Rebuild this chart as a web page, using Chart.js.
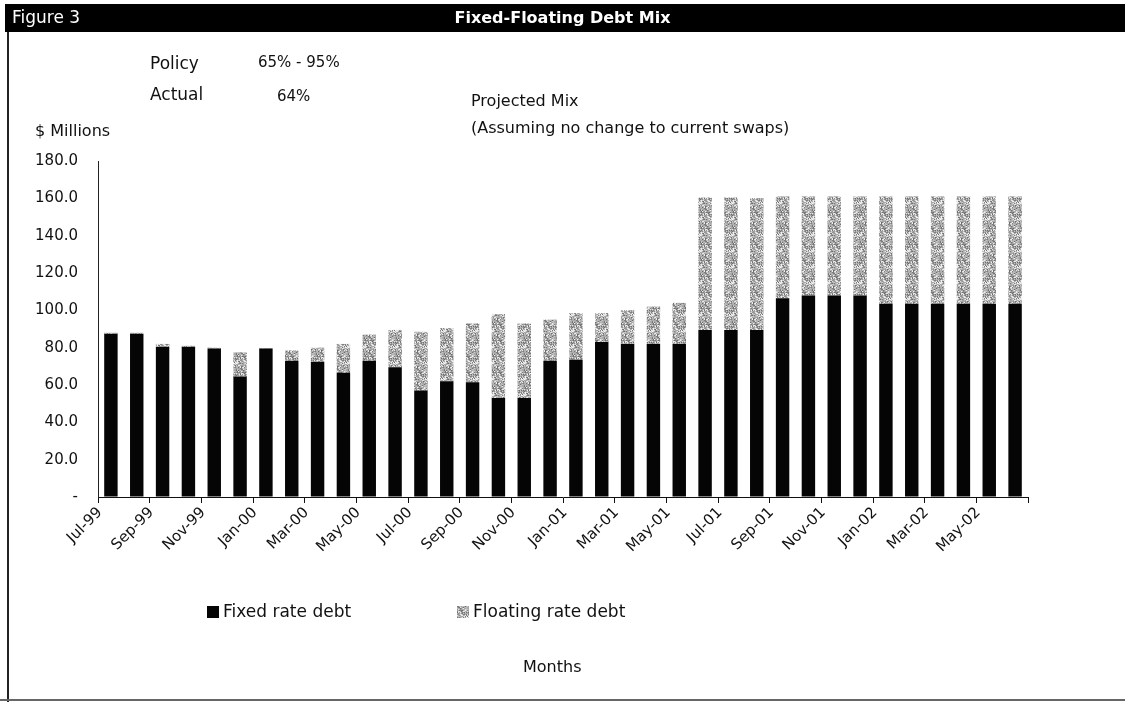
<!DOCTYPE html>
<html>
<head>
<meta charset="utf-8">
<script src="https://cdn.jsdelivr.net/npm/chart.js@4.4.1/dist/chart.umd.min.js"></script>
<style>
  html, body { margin: 0; padding: 0; background: #fff; }
  body { width: 1125px; height: 702px; position: relative; overflow: hidden;
         font-family: "DejaVu Sans", sans-serif; color: #111; }
  canvas { position: absolute; left: 0; top: 0; }
  .txt { position: absolute; font-size: 16px; line-height: 1; white-space: nowrap; }
  #head { position: absolute; left: 5px; top: 4px; width: 1120px; height: 28px; background: #000; }
  #fig { position: absolute; left: 12px; top: 9px; color: #fff; font-size: 17px; line-height: 1; }
  #title { position: absolute; left: 0; top: 10px; width: 1125px; text-align: center;
           color: #fff; font-size: 16px; font-weight: bold; line-height: 1; }
  #frameL { position: absolute; left: 7px; top: 32px; width: 2px; height: 670px; background: #222; }
  #frameB { position: absolute; left: 0; top: 699px; width: 1125px; height: 2px; background: #666; }
  .key { position: absolute; font-size: 17px; line-height: 1; white-space: nowrap; }
  .key span { position: absolute; left: 16px; top: 0; }
</style>
</head>
<body>
<canvas id="debt" width="1125" height="702"></canvas>
<div id="head"></div>
<div id="fig">Figure 3</div>
<div id="title">Fixed-Floating Debt Mix</div>
<div id="frameL"></div>
<div id="frameB"></div>

<div class="txt" style="left:150px; top:55px; font-size:17px">Policy</div>
<div class="txt" style="left:258px; top:55px; font-size:15px">65% - 95%</div>
<div class="txt" style="left:150px; top:86px; font-size:17px">Actual</div>
<div class="txt" style="left:277px; top:89px; font-size:15px">64%</div>
<div class="txt" style="left:471px; top:93px">Projected Mix</div>
<div class="txt" style="left:471px; top:120px">(Assuming no change to current swaps)</div>
<div class="txt" style="left:35px; top:123px">$ Millions</div>
<div class="txt" style="left:523px; top:659px">Months</div>

<div id="keys"></div>

<script>
// month labels, Jul-99 to Jun-02
var months = ['Jul-99','Aug-99','Sep-99','Oct-99','Nov-99','Dec-99',
              'Jan-00','Feb-00','Mar-00','Apr-00','May-00','Jun-00',
              'Jul-00','Aug-00','Sep-00','Oct-00','Nov-00','Dec-00',
              'Jan-01','Feb-01','Mar-01','Apr-01','May-01','Jun-01',
              'Jul-01','Aug-01','Sep-01','Oct-01','Nov-01','Dec-01',
              'Jan-02','Feb-02','Mar-02','Apr-02','May-02','Jun-02'];

// $ millions
var fixedDebt = [87.5, 87.5, 80.5, 80.5, 79.5, 64.5,
                 79.5, 73, 72.5, 66.5, 73, 69.5,
                 57, 62, 61.5, 53, 53, 73,
                 73.5, 83, 82, 82, 82, 89.5,
                 89.5, 89.5, 106.5, 108, 108, 108,
                 103.5, 103.5, 103.5, 103.5, 103.5, 103.5];

var floatingDebt = [0.5, 0.5, 1.5, 0.5, 0.5, 13,
                    0.3, 5.5, 7.5, 15.5, 14, 20,
                    31.5, 28.5, 31.5, 45, 40, 22,
                    25, 15.5, 18, 20, 22, 71,
                    71, 70.5, 54.5, 53, 53, 53,
                    57.5, 57.5, 57.5, 57.5, 57.5, 57.5];

var yTicks = [0, 20, 40, 60, 80, 100, 120, 140, 160, 180];

// grainy grey fill for the floating part
function speckle() {
    var n = 16;
    var c = document.createElement('canvas');
    c.width = n; c.height = n;
    var g = c.getContext('2d');
    g.fillStyle = '#a9a9a9';
    g.fillRect(0, 0, n, n);
    var shades = ['#e4e4e4', '#7e7e7e', '#c8c8c8', '#929292', '#f0f0f0', '#6e6e6e', '#bcbcbc'];
    var s = 11;
    for (var i = 0; i < 170; i++) {
        s = (s * 109 + 57) % (n * n);
        g.fillStyle = shades[i % shades.length];
        g.fillRect(s % n, Math.floor(s / n), 1, 1);
    }
    return g.createPattern(c, 'repeat');
}

var floatFill = speckle();

var datasets = [
    { label: 'Fixed rate debt', data: fixedDebt, backgroundColor: '#050505' },
    { label: 'Floating rate debt', data: floatingDebt, backgroundColor: floatFill }
];

// legend below the axis
var keyPos = [207, 457];
var keys = document.getElementById('keys');
datasets.forEach(function (ds, i) {
    var k = document.createElement('div');
    k.className = 'key';
    k.style.left = keyPos[i] + 'px';
    k.style.top = '603px';
    var box = document.createElement('canvas');
    box.width = 12; box.height = 12;
    box.style.cssText = 'position:absolute;left:0;top:3px';
    var bg = box.getContext('2d');
    bg.fillStyle = ds.backgroundColor;
    bg.fillRect(0, 0, 12, 12);
    var t = document.createElement('span');
    t.textContent = ds.label;
    k.appendChild(box);
    k.appendChild(t);
    keys.appendChild(k);
});

var ctx = document.getElementById('debt').getContext('2d');
new Chart(ctx, {
    type: 'bar',
    data: {
        labels: months,
        datasets: datasets.map(function (ds) {
            return { label: ds.label, data: ds.data, backgroundColor: ds.backgroundColor,
                     borderWidth: 0, barPercentage: 0.52, categoryPercentage: 1.0 };
        })
    },
    options: {
        animation: false,
        responsive: false,
        maintainAspectRatio: false,
        layout: { padding: { top: 161, left: 20, right: 97, bottom: 125 } },
        plugins: {
            legend: { display: false },
            tooltip: { enabled: false }
        },
        scales: {
            x: {
                stacked: true,
                offset: true,
                afterFit: function (s) { s.height = 80; },
                border: { color: '#111', width: 1 },
                grid: {
                    offset: true,
                    drawOnChartArea: false,
                    tickLength: 6,
                    color: function (c) {
                        // tick marks only every second month
                        return (c.index === undefined || c.index % 2 === 0) ? '#111' : 'rgba(0,0,0,0)';
                    }
                },
                ticks: {
                    autoSkip: false,
                    minRotation: 45,
                    maxRotation: 45,
                    padding: 1,
                    labelOffset: -11,
                    color: '#111',
                    font: { family: 'DejaVu Sans', size: 15 },
                    callback: function (v, i) { return i % 2 === 0 ? months[i] : ''; }
                }
            },
            y: {
                stacked: true,
                min: 0,
                max: 180,
                afterFit: function (s) { s.width = 78; },
                afterBuildTicks: function (s) { s.ticks = yTicks.map(function (v) { return { value: v }; }); },
                border: { color: '#222', width: 1 },
                grid: { drawOnChartArea: false, drawTicks: false },
                ticks: {
                    padding: 20,
                    color: '#111',
                    font: { family: 'DejaVu Sans', size: 15 },
                    callback: function (v) { return v === 0 ? '-' : v.toFixed(1); }
                }
            }
        }
    }
});
</script>
</body>
</html>
